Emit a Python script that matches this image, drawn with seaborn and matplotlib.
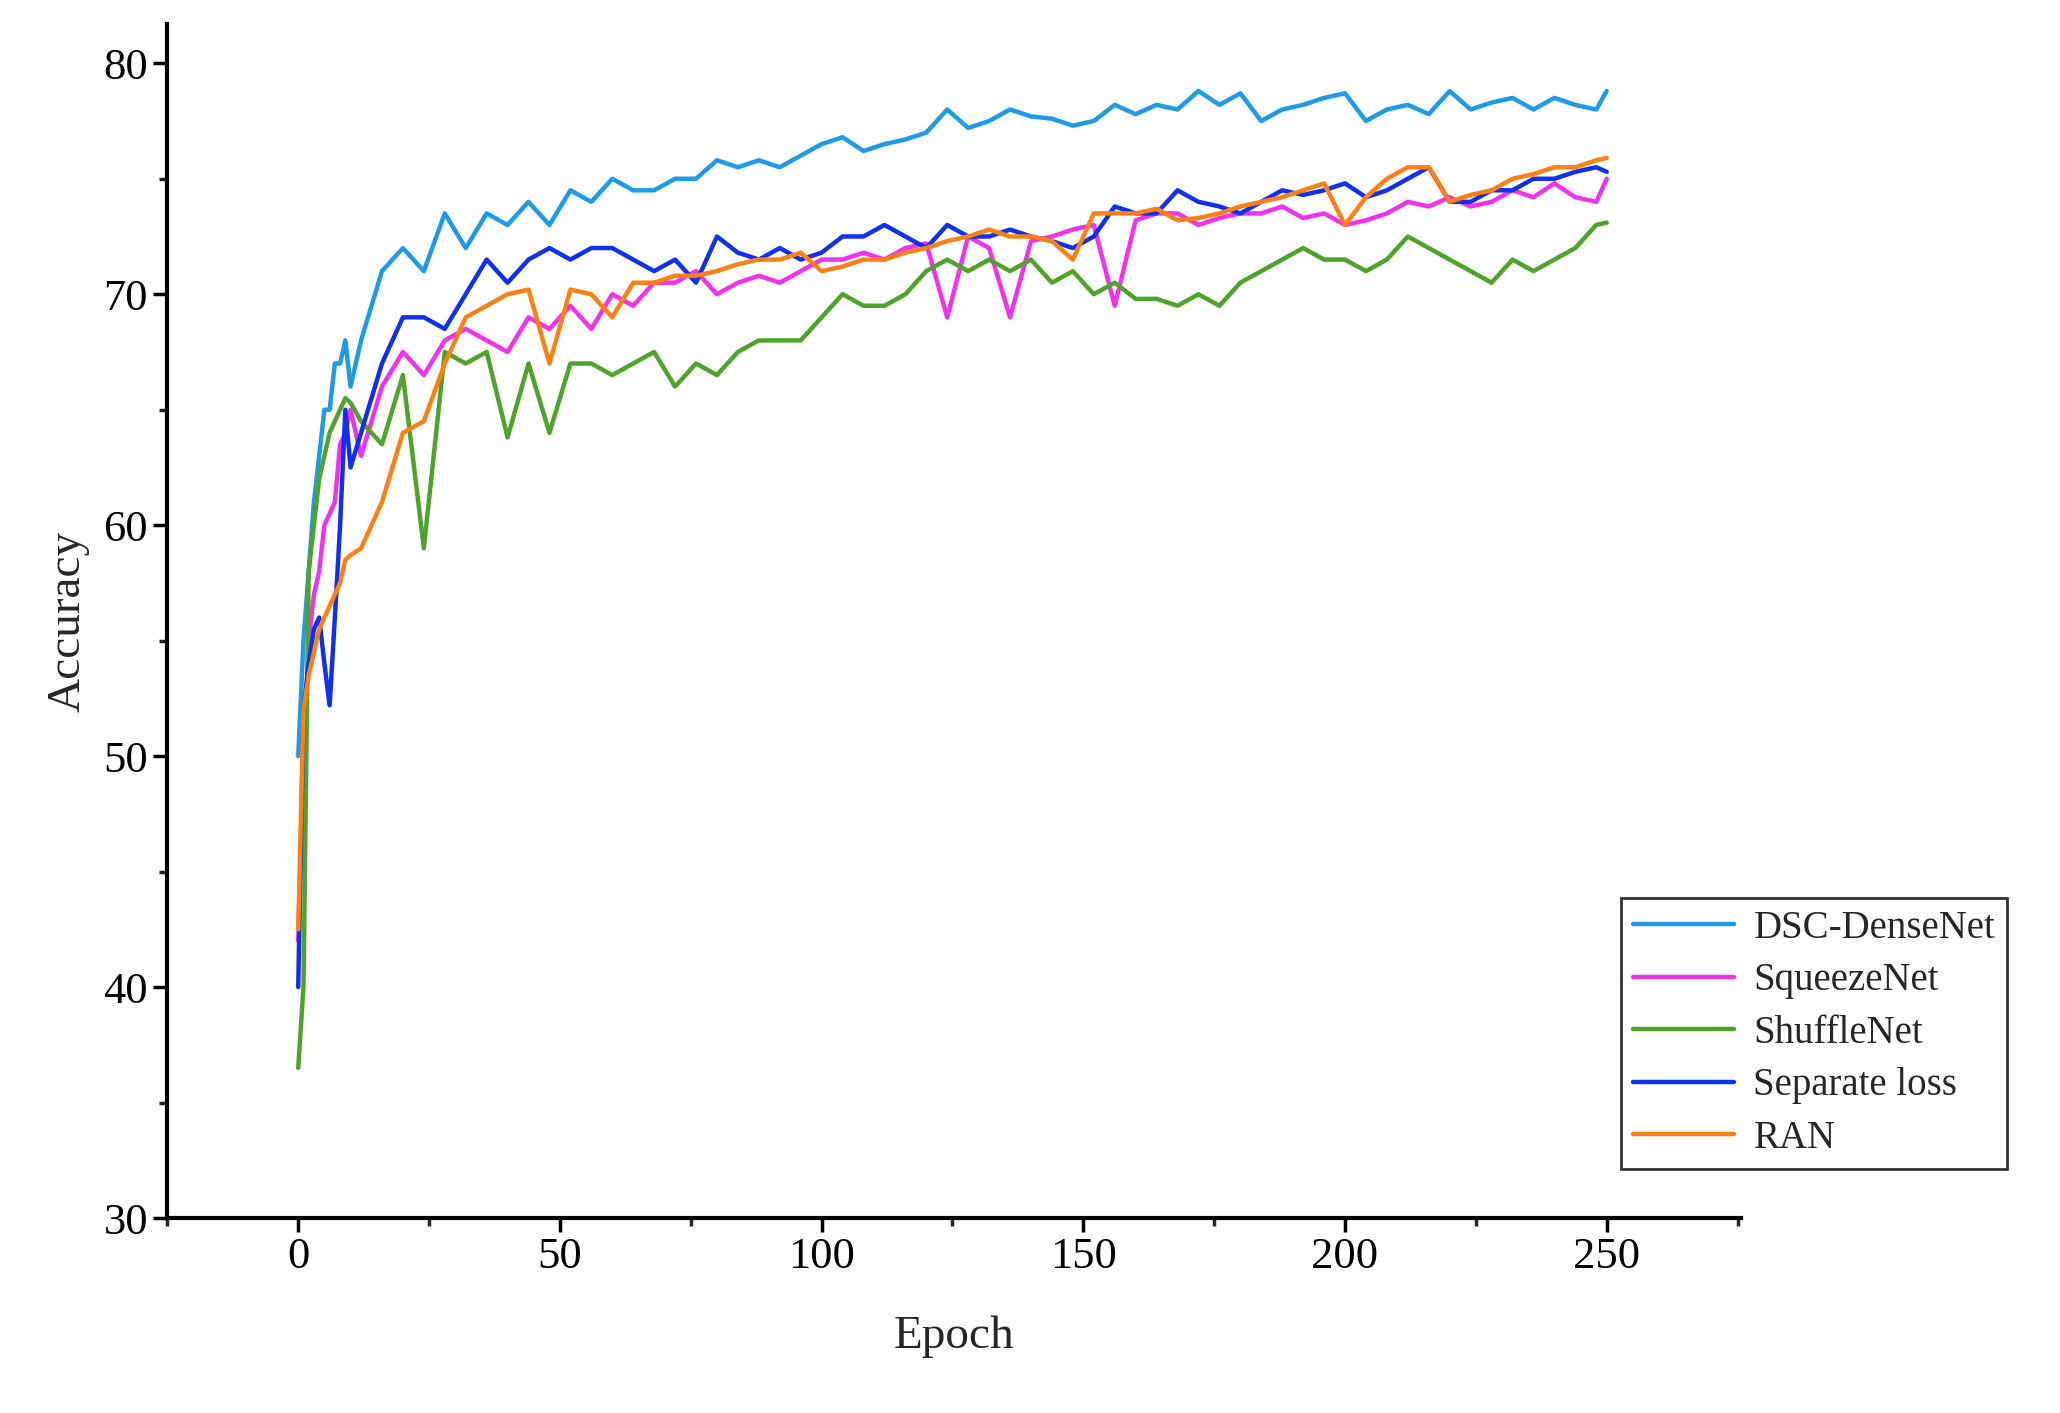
import matplotlib
matplotlib.use("Agg")
import matplotlib.pyplot as plt
import seaborn as sns
import pandas as pd
from matplotlib.ticker import MultipleLocator

epochs = [0,1,2,3,4,5,6,7,8,9,
          10,12,16,20,24,28,32,36,40,44,
          48,52,56,60,64,68,72,76,80,84,
          88,92,96,100,104,108,112,116,120,124,
          128,132,136,140,144,148,152,156,160,164,
          168,172,176,180,184,188,192,196,200,204,
          208,212,216,220,224,228,232,236,240,244,
          248,250]

dsc = [50,55,58,61,63,65,65,67,67,68,
       66,68,71,72,71,73.5,72,73.5,73,74,
       73,74.5,74,75,74.5,74.5,75,75,75.8,75.5,
       75.8,75.5,76,76.5,76.8,76.2,76.5,76.7,77,78,
       77.2,77.5,78,77.7,77.6,77.3,77.5,78.2,77.8,78.2,
       78,78.8,78.2,78.7,77.5,78,78.2,78.5,78.7,77.5,
       78,78.2,77.8,78.8,78,78.3,78.5,78,78.5,78.2,
       78,78.8]
squeeze = [42,50,55,57,58,60,60.5,61,63.5,64,
           65,63,66,67.5,66.5,68,68.5,68,67.5,69,
           68.5,69.5,68.5,70,69.5,70.5,70.5,71,70,70.5,
           70.8,70.5,71,71.5,71.5,71.8,71.5,72,72.2,69,
           72.5,72,69,72.3,72.5,72.8,73,69.5,73.2,73.5,
           73.5,73,73.3,73.5,73.5,73.8,73.3,73.5,73,73.2,
           73.5,74,73.8,74.2,73.8,74,74.5,74.2,74.8,74.2,
           74,75]
shuffle = [36.5,40,58,60,62,63,64,64.5,65,65.5,
           65.3,64.5,63.5,66.5,59,67.5,67,67.5,63.8,67,
           64,67,67,66.5,67,67.5,66,67,66.5,67.5,
           68,68,68,69,70,69.5,69.5,70,71,71.5,
           71,71.5,71,71.5,70.5,71,70,70.5,69.8,69.8,
           69.5,70,69.5,70.5,71,71.5,72,71.5,71.5,71,
           71.5,72.5,72,71.5,71,70.5,71.5,71,71.5,72,
           73,73.1]
separate = [40,52,54,55.5,56,54,52.2,56,60,65,
            62.5,64,67,69,69,68.5,70,71.5,70.5,71.5,
            72,71.5,72,72,71.5,71,71.5,70.5,72.5,71.8,
            71.5,72,71.5,71.8,72.5,72.5,73,72.5,72,73,
            72.5,72.5,72.8,72.5,72.3,72,72.5,73.8,73.5,73.5,
            74.5,74,73.8,73.5,74,74.5,74.3,74.5,74.8,74.2,
            74.5,75,75.5,74,74,74.5,74.5,75,75,75.3,
            75.5,75.3]
ran = [42.5,52,53.5,54.5,55.5,56,56.5,57,57.5,58.5,
       58.7,59,61,64,64.5,67,69,69.5,70,70.2,
       67,70.2,70,69,70.5,70.5,70.8,70.8,71,71.3,
       71.5,71.5,71.8,71,71.2,71.5,71.5,71.8,72,72.3,
       72.5,72.8,72.5,72.5,72.3,71.5,73.5,73.5,73.5,73.7,
       73.2,73.3,73.5,73.8,74,74.2,74.5,74.8,73,74.2,
       75,75.5,75.5,74,74.3,74.5,75,75.2,75.5,75.5,
       75.8,75.9]

names = ["DSC-DenseNet", "SqueezeNet", "ShuffleNet", "Separate loss", "RAN"]
series = [dsc, squeeze, shuffle, separate, ran]
colors = ["#1E9BE8", "#F032EE", "#4EA32A", "#1030F0", "#FF8012"]

sns.set_theme(style="ticks")
plt.rcParams['font.family'] = ['Liberation Serif', 'DejaVu Serif']

fig = plt.figure(figsize=(20.6, 14.13), dpi=100)
ax = fig.add_axes([0.081, 0.138, 0.764, 0.845])
for n, s, c in zip(names, series, colors):
    df = pd.DataFrame({"Epoch": epochs, "Accuracy": s})
    sns.lineplot(data=df, x="Epoch", y="Accuracy", ax=ax, color=c, lw=3.2, label=n)

ax.set_xlim(-25.1, 275.6)
ax.set_ylim(30, 81.7)
ax.xaxis.set_major_locator(MultipleLocator(50))
ax.xaxis.set_minor_locator(MultipleLocator(25))
ax.yaxis.set_major_locator(MultipleLocator(10))
ax.yaxis.set_minor_locator(MultipleLocator(5))
ax.tick_params(which='major', length=10, width=2.5, labelsize=32, colors='black')
ax.tick_params(which='minor', length=6, width=2.5)
for s in ['top', 'right']:
    ax.spines[s].set_visible(False)
for s in ['left', 'bottom']:
    ax.spines[s].set_linewidth(3)
    ax.spines[s].set_color('black')
ax.set_xlabel("Epoch", fontsize=34, labelpad=28)
ax.set_ylabel("Accuracy", fontsize=34, labelpad=10)

leg = ax.legend(loc='lower left', bbox_to_anchor=(0.787, 0.173), bbox_transform=fig.transFigure,
                fontsize=28, frameon=True, fancybox=False, edgecolor='black',
                handlelength=2.6, handletextpad=0.5, borderpad=0.3, borderaxespad=0,
                labelspacing=0.4)
leg.get_frame().set_linewidth(2)
fig.savefig("out.png", dpi=100)
